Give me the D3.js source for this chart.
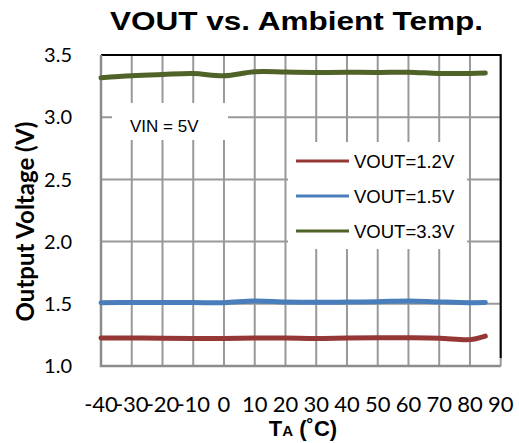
<!DOCTYPE html>
<html>
<head>
  <meta charset="utf-8">
  <title>VOUT vs. Ambient Temp.</title>
  <style>
    body { margin: 0; background: #fff; }
    svg { display: block; }
    .grid line { stroke: #999; stroke-width: 2px; }
    .tick-label { font-family: Lato, "Open Sans", sans-serif; fill: #000; }
    .arial { font-family: "Liberation Sans", Arial, sans-serif; fill: #000; }
  </style>
</head>
<body>
  <svg width="519" height="443"></svg>
  <script src="https://d3js.org/d3.v7.min.js"></script>
  <script>
    // data
    var temps = [-40, -30, -20, -10, 0, 10, 20, 30, 40, 50, 60, 70, 80, 85];
    var vout12 = [1.225, 1.225, 1.223, 1.222, 1.222, 1.225, 1.225, 1.222, 1.225, 1.227, 1.227, 1.224, 1.212, 1.240];
    var vout15 = [1.509, 1.510, 1.510, 1.510, 1.509, 1.523, 1.515, 1.512, 1.514, 1.517, 1.523, 1.515, 1.509, 1.510];
    var vout33 = [3.317, 3.333, 3.343, 3.351, 3.333, 3.365, 3.363, 3.360, 3.361, 3.360, 3.362, 3.352, 3.352, 3.355];

    var seriesNames = ["VOUT=1.2V", "VOUT=1.5V", "VOUT=3.3V"];
    var seriesColors = ["#953735", "#4A7EBB", "#4F6228"];
    var xTicks = [-40, -30, -20, -10, 0, 10, 20, 30, 40, 50, 60, 70, 80, 90];
    var yTicks = [1.0, 1.5, 2.0, 2.5, 3.0, 3.5];

    var svg = d3.select("svg");

    var x = d3.scaleLinear().domain([-40, 90]).range([101, 500.7]);
    var y = d3.scaleLinear().domain([1.0, 3.5]).range([366, 55]);

    // gridlines
    var grid = svg.append("g").attr("class", "grid");
    grid.selectAll(".v").data(xTicks).enter().append("line")
        .attr("x1", function(d) { return x(d); })
        .attr("x2", function(d) { return x(d); })
        .attr("y1", y(3.5)).attr("y2", y(1.0));
    grid.selectAll(".h").data(yTicks).enter().append("line")
        .attr("x1", x(-40)).attr("x2", x(90))
        .attr("y1", function(d) { return y(d); })
        .attr("y2", function(d) { return y(d); });

    // black border on top and right
    svg.append("path")
        .attr("d", "M" + x(-40) + "," + y(3.5) + "H" + x(90) + "V" + (y(1.0) - 8))
        .attr("fill", "none")
        .attr("stroke", "#000")
        .attr("stroke-width", 2);

    // VIN label box
    svg.append("rect")
        .attr("x", 112).attr("y", 103).attr("width", 116).attr("height", 37)
        .attr("fill", "#fff");
    svg.append("text")
        .attr("class", "arial")
        .attr("x", 130).attr("y", 132)
        .attr("font-size", 17)
        .text("VIN = 5V");

    // legend box
    svg.append("rect")
        .attr("x", 288).attr("y", 142).attr("width", 179).attr("height", 107)
        .attr("fill", "#fff");
    var legend = svg.selectAll(".legend").data(seriesNames).enter().append("g")
        .attr("transform", function(d, i) { return "translate(296," + (161 + i * 35) + ")"; });
    legend.append("line")
        .attr("x1", 0).attr("x2", 53)
        .attr("stroke", function(d, i) { return seriesColors[i]; })
        .attr("stroke-width", 3);
    legend.append("text")
        .attr("class", "arial")
        .attr("x", 58).attr("y", 7)
        .attr("font-size", 18.5)
        .text(function(d) { return d; });

    // axes lines (gray)
    svg.append("path")
        .attr("d", "M" + x(-40) + "," + y(3.5) + "V" + y(1.0) + "H" + x(90))
        .attr("fill", "none")
        .attr("stroke", "#8c8c8c")
        .attr("stroke-width", 2.5);

    // series
    var line = d3.line()
        .x(function(d) { return x(d[0]); })
        .y(function(d) { return y(d[1]); })
        .curve(d3.curveCatmullRom);

    [vout12, vout15, vout33].forEach(function(vals, i) {
      svg.append("path")
          .datum(temps.map(function(t, j) { return [t, vals[j]]; }))
          .attr("d", line)
          .attr("fill", "none")
          .attr("stroke", seriesColors[i])
          .attr("stroke-width", 5)
          .attr("stroke-linecap", "round");
    });

    // tick labels
    svg.selectAll(".ylab").data(yTicks).enter().append("text")
        .attr("class", "tick-label")
        .attr("x", 72)
        .attr("y", function(d) { return y(d); })
        .attr("dy", "0.36em")
        .attr("text-anchor", "end")
        .attr("font-size", 20)
        .text(function(d) { return d3.format(".1f")(d); });

    svg.selectAll(".xlab").data(xTicks).enter().append("text")
        .attr("class", "tick-label")
        .attr("x", function(d) { return x(d); })
        .attr("y", 412)
        .attr("text-anchor", "middle")
        .attr("font-size", 22)
        .text(function(d) { return d; });

    // titles
    svg.append("text")
        .attr("class", "arial")
        .attr("x", 296.5).attr("y", 30)
        .attr("text-anchor", "middle")
        .attr("font-size", 25)
        .attr("font-weight", "bold")
        .attr("textLength", 373)
        .attr("lengthAdjust", "spacingAndGlyphs")
        .text("VOUT vs. Ambient Temp.");

    svg.append("text")
        .attr("class", "tick-label")
        .attr("transform", "translate(34,221.5) rotate(-90)")
        .attr("text-anchor", "middle")
        .attr("font-size", 24)
        .attr("font-weight", "bold")
        .text("Output Voltage (V)");

    var xt = svg.append("text")
        .attr("class", "arial")
        .attr("x", 303).attr("y", 436)
        .attr("text-anchor", "middle")
        .attr("font-weight", "bold")
        .attr("font-size", 22);
    xt.append("tspan").text("T");
    xt.append("tspan").attr("font-size", 15).text("A");
    xt.append("tspan").text(" (˚C)");
  </script>
</body>
</html>
